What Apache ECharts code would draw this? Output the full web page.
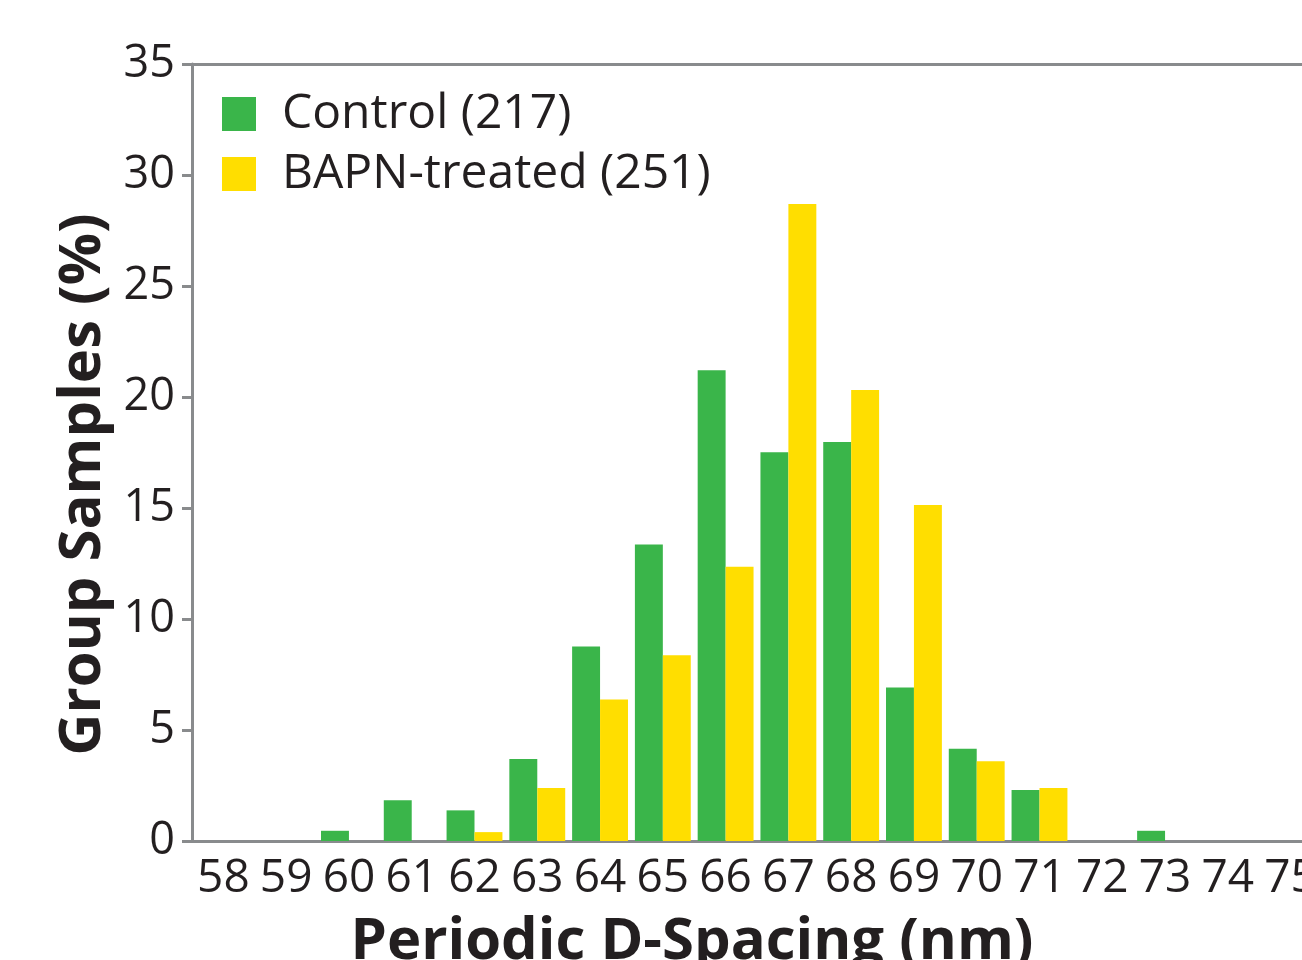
<!DOCTYPE html>
<html>
<head>
<meta charset="utf-8">
<script src="https://cdn.jsdelivr.net/npm/echarts@6/dist/echarts.min.js"></script>
<style>
  html, body { margin: 0; padding: 0; background: #fff; }
  #main { width: 1302px; height: 960px; }
</style>
</head>
<body>
<div id="main"></div>
<script>
// D-spacing bins (nm)
const categories = ['58', '59', '60', '61', '62', '63', '64', '65', '66', '67', '68', '69', '70', '71', '72', '73', '74', '75'];
// percentages
const controlValues = [0, 0, 0.46, 1.84, 1.38, 3.69, 8.76, 13.36, 21.2, 17.51, 17.97, 6.91, 4.15, 2.3, 0, 0.46, 0, 0];
const bapnValues = [0, 0, 0, 0, 0.4, 2.39, 6.37, 8.37, 12.35, 28.69, 20.32, 15.14, 3.59, 2.39, 0, 0, 0, 0];
const yTicks = [0, 5, 10, 15, 20, 25, 30, 35];

const axisGray = '#898b8d';
const textColor = '#231f20';
const font = '"Open Sans", "Noto Sans", sans-serif';

let myChart = echarts.init(document.getElementById('main'));

let options = {
    animation: false,
    textStyle: { fontFamily: font, color: textColor },
    grid: { left: 192, top: 64, width: 1130, height: 777, outerBoundsMode: 'none', containLabel: false },
    legend: {
        orient: 'vertical',
        left: 222,
        top: 90,
        padding: 0,
        itemWidth: 34,
        itemHeight: 34,
        itemGap: 12,
        icon: 'rect',
        textStyle: { fontSize: 48, color: textColor, fontFamily: font, padding: [0, 0, 0, 21] },
        data: ['Control (217)', 'BAPN-treated (251)']
    },
    xAxis: [{
        type: 'category',
        data: categories,
        name: 'Periodic D-Spacing (nm)',
        nameLocation: 'middle',
        nameGap: 72,
        nameTextStyle: { fontSize: 58, fontWeight: 'bold', color: textColor, fontFamily: font, padding: [0, 130, 0, 0] },
        axisLine: { lineStyle: { color: axisGray, width: 3 } },
        axisTick: { length: 10, lineStyle: { color: axisGray, width: 3 } },
        axisLabel: { fontSize: 46, color: textColor, margin: 15, interval: 0 }
    }, {
        type: 'category',
        data: categories,
        position: 'top',
        axisLine: { lineStyle: { color: axisGray, width: 3 } },
        axisTick: { show: false },
        axisLabel: { show: false }
    }],
    yAxis: {
        type: 'value',
        min: yTicks[0],
        max: yTicks[yTicks.length - 1],
        interval: 5,
        name: 'Group Samples (%)',
        nameLocation: 'middle',
        nameGap: 78,
        nameTextStyle: { fontSize: 58, fontWeight: 'bold', color: textColor, fontFamily: font, padding: [0, 64, 0, 0] },
        axisLine: { show: true, lineStyle: { color: axisGray, width: 3 } },
        axisTick: { show: true, length: 10, lineStyle: { color: axisGray, width: 3 } },
        axisLabel: { fontSize: 45, color: textColor, margin: 17 },
        splitLine: { show: false }
    },
    series: [{
        name: 'Control (217)',
        type: 'bar',
        data: controlValues,
        barGap: '0%',
        barCategoryGap: '11%',
        itemStyle: { color: '#3ab54a' }
    }, {
        name: 'BAPN-treated (251)',
        type: 'bar',
        data: bapnValues,
        barGap: '0%',
        barCategoryGap: '11%',
        itemStyle: { color: '#ffde00' }
    }]
};

myChart.setOption(options);
</script>
</body>
</html>
